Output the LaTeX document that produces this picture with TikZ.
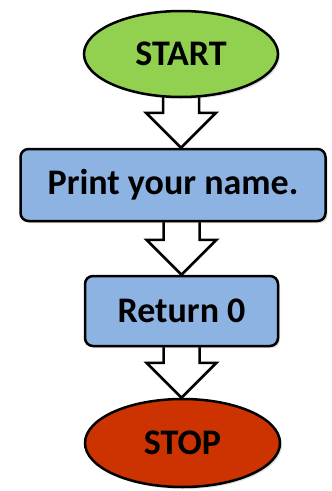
\documentclass[tikz,border=0pt]{standalone}
\usepackage{fontspec}
\setmainfont{Carlito}
\usetikzlibrary{shapes.geometric,calc,shadows,backgrounds}

\definecolor{startgreen}{HTML}{92D050}
\definecolor{stepblue}{HTML}{8DB3E2}
\definecolor{stopred}{HTML}{CC3300}

\tikzset{
  flowbase/.style={draw=black, line width=2.5pt, align=center,
    font=\fontsize{36}{40}\selectfont\bfseries,
    drop shadow={opacity=0.25, shadow xshift=2pt, shadow yshift=-2pt}},
  terminal/.style={flowbase, ellipse, inner sep=0pt},
  stepbox/.style={flowbase, rectangle, rounded corners=8pt, fill=stepblue, inner sep=0pt},
  blockarrow/.style={draw=black, fill=white, line width=2.5pt, line join=miter},
}

% draws a hollow block arrow from node #1 to node #2, on the vertical line through node #3
\newcommand{\flowarrow}[3]{%
  \begin{pgfonlayer}{background}
    \coordinate (arrtop) at (#1.south -| #3.center);
    \coordinate (arrtip) at (#2.north -| #3.center);
    \draw[blockarrow]
      ($(arrtop)+(-18,-4)$) --
      ($(arrtip)+(-18,-35)$) --
      ($(arrtip)+(-35,-35)$) --
      (arrtip) --
      ($(arrtip)+(35,-35)$) --
      ($(arrtip)+(18,-35)$) --
      ($(arrtop)+(18,-4)$) -- cycle;
  \end{pgfonlayer}}

\begin{document}
\begin{tikzpicture}[x=1pt, y=-1pt]
  \useasboundingbox (0,0) rectangle (332,491);

  \node[terminal, fill=startgreen, minimum width=194pt, minimum height=86pt]
    (start) at (181,54) {START};
  \node[stepbox, minimum width=305pt, minimum height=72pt]
    (print) at (173,185) {Print your name.};
  \node[stepbox, minimum width=193pt, minimum height=70pt]
    (ret) at (181.5,311) {Return 0};
  \node[terminal, fill=stopred, minimum width=195pt, minimum height=88pt]
    (stop) at (182.5,443) {STOP};

  \flowarrow{start}{print}{start}
  \flowarrow{print}{ret}{ret}
  \flowarrow{ret}{stop}{ret}
\end{tikzpicture}
\end{document}
